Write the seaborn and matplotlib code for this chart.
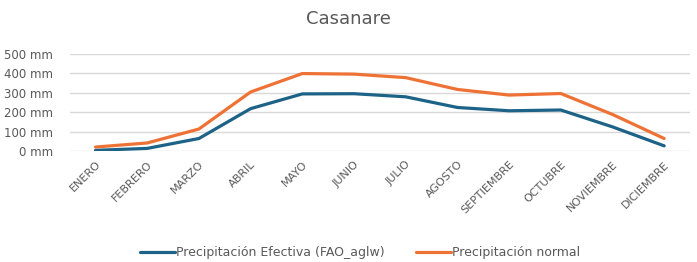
import pandas as pd
import matplotlib.pyplot as plt
import seaborn as sns

meses = ['ENERO', 'FEBRERO', 'MARZO', 'ABRIL', 'MAYO', 'JUNIO', 'JULIO',
         'AGOSTO', 'SEPTIEMBRE', 'OCTUBRE', 'NOVIEMBRE', 'DICIEMBRE']
efectiva = [3, 13, 64, 218, 294, 295, 279, 224, 207, 211, 124, 26]
normal = [20, 41, 113, 304, 399, 396, 378, 317, 288, 296, 188, 64]

lab_ef = 'Precipitación Efectiva (FAO_aglw)'
lab_no = 'Precipitación normal'

df = pd.DataFrame({'mes': meses * 2,
                   'valor': efectiva + normal,
                   'serie': [lab_ef] * 12 + [lab_no] * 12})

sns.set_style('white')
plt.rcParams['font.family'] = ['DejaVu Sans']
gris = '#595959'

fig = plt.figure(figsize=(6.97, 2.62), dpi=100)
ax = fig.add_axes([0.1, 0.424, 0.89, 0.37])

sns.lineplot(data=df, x='mes', y='valor', hue='serie', sort=False,
             palette={lab_ef: '#1d6387', lab_no: '#ee7236'},
             linewidth=2.3, ax=ax)

ax.set_ylim(0, 500)
ax.set_xlim(-0.5, 11.5)
ax.set_yticks(range(0, 501, 100))
ax.set_yticklabels([f'{v} mm' for v in range(0, 501, 100)], color=gris, fontsize=8.5)
ax.tick_params(axis='x', labelrotation=45, labelsize=8, colors=gris, length=0, pad=6)
ax.tick_params(axis='y', length=0, pad=12)
for t in ax.get_xticklabels():
    t.set_ha('right')
    t.set_rotation_mode('anchor')
ax.yaxis.grid(True, color='#d9d9d9', linewidth=1)
ax.set_axisbelow(True)
for s in ax.spines.values():
    s.set_visible(False)
ax.set_xlabel('')
ax.set_ylabel('')

fig.suptitle('Casanare', y=0.96, fontsize=13, color=gris)

handles, labels = ax.get_legend_handles_labels()
ax.get_legend().remove()
fig.legend(handles, labels, loc='center', bbox_to_anchor=(0.517, 0.035), ncol=2,
           frameon=False, fontsize=9, handlelength=2.8, columnspacing=2.5,
           handletextpad=0.1, labelcolor=gris, borderpad=0)

fig.savefig('out.png', dpi=100)
